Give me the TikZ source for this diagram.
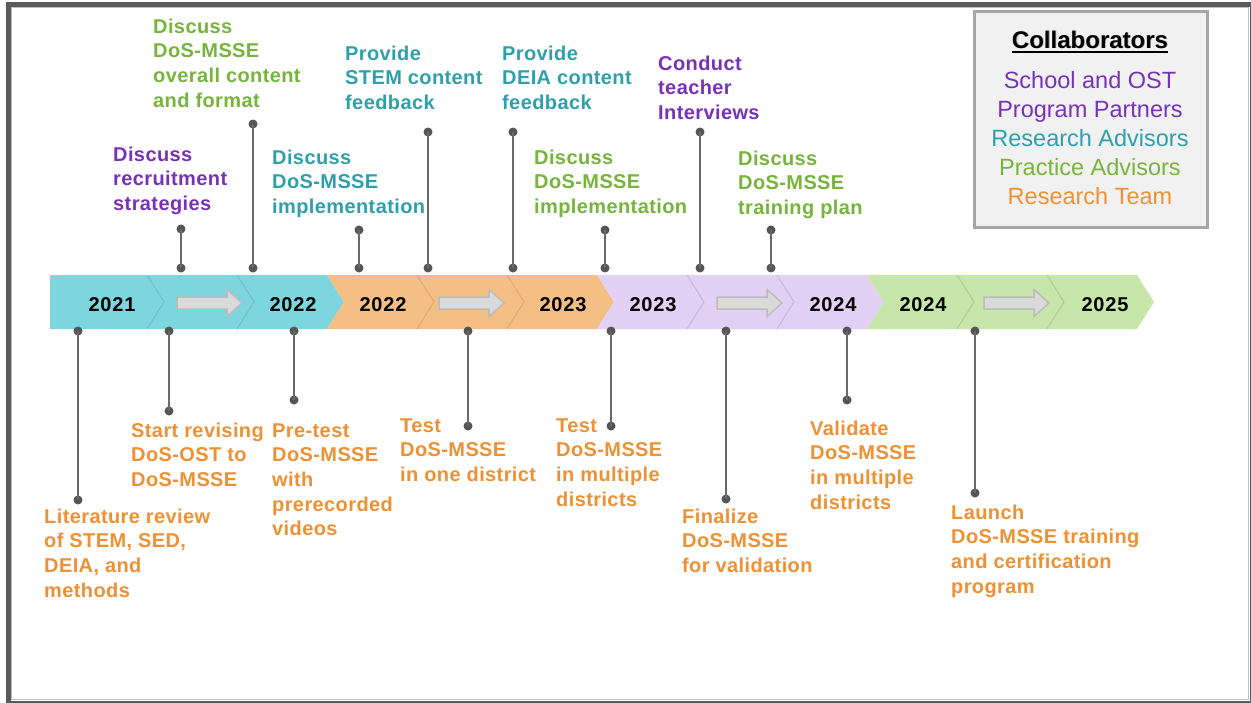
\documentclass[tikz,border=0pt]{standalone}
\usepackage{fontspec}
\setmainfont{Liberation Sans}
\newfontfamily\yearfont[LetterSpace=4]{Liberation Sans}
\newfontfamily\lblfont[LetterSpace=2]{Liberation Sans}

% band fills
\definecolor{bandteal}{RGB}{125,213,222}
\definecolor{bandorange}{RGB}{244,191,133}
\definecolor{bandpurple}{RGB}{226,208,245}
\definecolor{bandgreen}{RGB}{199,230,170}
% text colours
\definecolor{tgreen}{RGB}{119,180,60}
\definecolor{tpurple}{RGB}{120,50,185}
\definecolor{tteal}{RGB}{45,160,172}
\definecolor{torange}{RGB}{237,145,52}
% pins, arrows, frame
\definecolor{dotgray}{RGB}{85,85,85}
\definecolor{linegray}{RGB}{105,105,105}
\definecolor{arrowfill}{RGB}{218,218,218}
\definecolor{arrowedge}{RGB}{188,188,188}
\definecolor{framegray}{RGB}{90,90,90}
\definecolor{boxfill}{RGB}{241,241,241}
\definecolor{boxedge}{RGB}{166,166,166}

% first-line strut so that labels can be placed by their first baseline
\newcommand\firstline{\rule{0pt}{16pt}}

\tikzset{
  lbl/.style={anchor=north west, inner sep=0pt, align=left,
    font=\lblfont\bfseries\fontsize{20}{24.6}\selectfont},
  yearlbl/.style={anchor=base, inner sep=0pt,
    font=\yearfont\bfseries\fontsize{20}{24}\selectfont},
  pindot/.style={circle, fill=dotgray, inner sep=0pt, minimum size=9pt},
  pinline/.style={draw=linegray, line width=1.5pt},
  blockarrow/.style={fill=arrowfill, draw=arrowedge, line width=1.5pt, line join=miter},
}

\begin{document}
\begin{tikzpicture}[x=1pt,y=-1pt]
\useasboundingbox (0,0) rectangle (1251,702);
\fill[white] (0,0) rectangle (1251,702);

% outer frame
\draw[framegray, line width=5pt] (8.5,4.5) rectangle (1252,703);
\draw[black!25, line width=1pt] (11.5,7.5) rectangle (1248.5,699.5);

% ---- chevron band ----
\fill[bandteal] (50,275) -- (147,275) -- (164,302) -- (147,329) -- (50,329) -- cycle;
\foreach \i/\c in {1/bandteal,2/bandteal,3/bandorange,4/bandorange,5/bandorange,
                   6/bandpurple,7/bandpurple,8/bandpurple,9/bandgreen,10/bandgreen,11/bandgreen}{
  \pgfmathsetmacro\L{57+90*\i}
  \pgfmathsetmacro\R{147+90*\i}
  \fill[\c] (\L,275) -- (\R,275) -- ({\R+17},302) -- (\R,329) -- (\L,329) -- ({\L+17},302) -- cycle;
}
% faint seams between chevrons of one colour
\foreach \b in {147,237,417,507,687,777,957,1047}{
  \draw[black, opacity=0.13, line width=1pt] (\b,275) -- ({\b+17},302) -- (\b,329);
}

% block arrows inside the band
\foreach \l in {177,439,717,984}{
  \pgfmathsetmacro\r{\l+65}
  \pgfmathsetmacro\h{\l+50}
  \draw[blockarrow] (\l,297) -- (\h,297) -- (\h,289.5) -- (\r,303) -- (\h,316.5) -- (\h,309) -- (\l,309) -- cycle;
}

% year labels
\node[yearlbl] (y1) at (112,311) {2021};
\node[yearlbl] (y2) at (293,311) {2022};
\node[yearlbl] (y3) at (383,311) {2022};
\node[yearlbl] (y4) at (563,311) {2023};
\node[yearlbl] (y5) at (653,311) {2023};
\node[yearlbl] (y6) at (833,311) {2024};
\node[yearlbl] (y7) at (923,311) {2024};
\node[yearlbl] (y8) at (1105,311) {2025};

% ---- pins above the band ----
\foreach \n/\x/\y in {ua/181/229, ub/253/124, uc/359/230, ud/428/132,
                      ue/513/132, uf/605/230, ug/700/132, uh/771/230}{
  \node[pindot] (\n-top) at (\x,\y) {};
  \node[pindot] (\n-bot) at (\x,268) {};
  \draw[pinline] (\n-top.center) -- (\n-bot.center);
}
% ---- pins below the band ----
\foreach \n/\x/\y in {la/78/500, lb/169/411, lc/294/400, ld/468/426,
                      le/611/426, lf/726/499, lg/847/400, lh/975/493}{
  \node[pindot] (\n-top) at (\x,331) {};
  \node[pindot] (\n-bot) at (\x,\y) {};
  \draw[pinline] (\n-top.center) -- (\n-bot.center);
}

% ---- labels above ----
\node[lbl, text=tpurple] (recruit) at (113,145) {\firstline Discuss\\recruitment\\strategies};
\node[lbl, text=tgreen]  (overall) at (153,17)  {\firstline Discuss\\DoS-MSSE\\overall content\\and format};
\node[lbl, text=tteal]   (implA)   at (272,148) {\firstline Discuss\\DoS-MSSE\\implementation};
\node[lbl, text=tteal]   (stem)    at (345,44)  {\firstline Provide\\STEM content\\feedback};
\node[lbl, text=tteal]   (deia)    at (502,44)  {\firstline Provide\\DEIA content\\feedback};
\node[lbl, text=tgreen]  (implB)   at (534,148) {\firstline Discuss\\DoS-MSSE\\implementation};
\node[lbl, text=tpurple] (conduct) at (658,54)  {\firstline Conduct\\teacher\\Interviews};
\node[lbl, text=tgreen]  (train)   at (738,149) {\firstline Discuss\\DoS-MSSE\\training plan};

% ---- labels below ----
\node[lbl, text=torange] (lit)    at (44,507)  {\firstline Literature review\\of STEM, SED,\\DEIA, and\\methods};
\node[lbl, text=torange] (revise) at (131,421) {\firstline Start revising\\DoS-OST to\\DoS-MSSE};
\node[lbl, text=torange] (pretest) at (272,421) {\firstline Pre-test\\DoS-MSSE\\with\\prerecorded\\videos};
\node[lbl, text=torange] (testone) at (400,416) {\firstline Test\\DoS-MSSE\\in one district};
\node[lbl, text=torange] (testmul) at (556,416) {\firstline Test\\DoS-MSSE\\in multiple\\districts};
\node[lbl, text=torange] (final)   at (682,507) {\firstline Finalize\\DoS-MSSE\\for validation};
\node[lbl, text=torange] (valid)   at (810,419) {\firstline Validate\\DoS-MSSE\\in multiple\\districts};
\node[lbl, text=torange] (launch)  at (951,503) {\firstline Launch\\DoS-MSSE training\\and certification\\program};

% ---- collaborators key ----
\draw[fill=boxfill, draw=boxedge, line width=3pt] (974,11) rectangle (1207,227);
\node[anchor=base, inner sep=0pt, text=black!35, font=\bfseries\fontsize{24}{29}\selectfont]
  at (1090.8,48.8) {Collaborators};
\node[anchor=base, inner sep=0pt, font=\bfseries\fontsize{24}{29}\selectfont]
  (keytitle) at (1090,48) {Collaborators};
\draw[black, line width=2pt] ([yshift=-4pt]keytitle.base west) -- ([yshift=-4pt]keytitle.base east);
\node[anchor=north, inner sep=0pt, align=center, font=\fontsize{23.5}{29}\selectfont]
  (keyitems) at (1090,68) {\rule{0pt}{20pt}\textcolor{tpurple}{School and OST}\\
    \textcolor{tpurple}{Program Partners}\\
    \textcolor{tteal}{Research Advisors}\\
    \textcolor{tgreen}{Practice Advisors}\\
    \textcolor{torange}{Research Team}};
\end{tikzpicture}
\end{document}
